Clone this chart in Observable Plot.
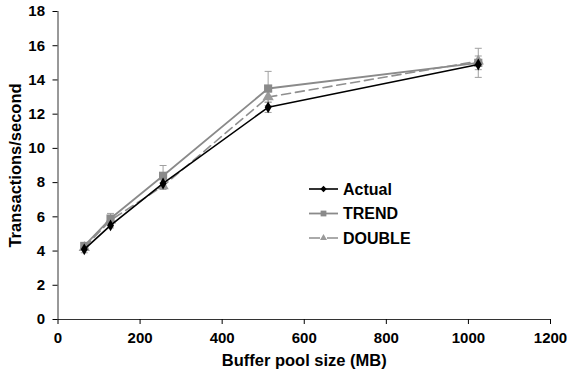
<!DOCTYPE html>
<html>
<head>
<meta charset="utf-8">
<script src="https://cdn.jsdelivr.net/npm/d3@7"></script>
<script src="https://cdn.jsdelivr.net/npm/@observablehq/plot@0.6"></script>
<style>
  body { margin: 0; background: #fff; }
  #wrap { position: relative; width: 567px; height: 378px; }
  #legend { position: absolute; left: 305px; top: 177px; }
</style>
</head>
<body>
<div id="wrap"></div>
<script>
// ---- data ----
const bufferSizes = [64, 128, 256, 512, 1024];
const actual = [4.1, 5.5, 7.95, 12.4, 14.9];
const actualErr = [0.2, 0.15, 0.2, 0.3, 0.3];
const trend = [4.3, 5.9, 8.4, 13.5, 15.0];
const trendErr = [0.15, 0.3, 0.6, 1.0, 0.85];
const double = [4.2, 5.8, 7.8, 13.0, 15.1];
const doubleErr = [0.1, 0.15, 0.2, 0.3, 0.3];
const seriesNames = ["Actual", "TREND", "DOUBLE"];
const xTicks = [0, 200, 400, 600, 800, 1000, 1200];
const yTicks = [0, 2, 4, 6, 8, 10, 12, 14, 16, 18];

const FONT = '"Liberation Sans", Arial, Helvetica, sans-serif';
const styles = {
  Actual: {stroke: "#000000", fill: "#000000", symbol: "diamond", r: 3.6, dash: null, width: 1.6},
  TREND: {stroke: "#8a8a8a", fill: "#8a8a8a", symbol: "square", r: 4.6, dash: null, width: 1.8},
  DOUBLE: {stroke: "#8f8f8f", fill: "#9a9a9a", symbol: "triangle", r: 4.2, dash: "9,5", width: 1.6}
};

const rows = [];
const vals = {Actual: [actual, actualErr], TREND: [trend, trendErr], DOUBLE: [double, doubleErr]};
for (const s of seriesNames) {
  bufferSizes.forEach((x, i) => {
    const [v, e] = vals[s];
    rows.push({series: s, x, y: v[i], lo: v[i] - e[i], hi: v[i] + e[i]});
  });
}

const cap = {draw(context, size) { const w = 3.5; context.moveTo(-w, 0); context.lineTo(w, 0); }};

const marks = [];
// error bars
marks.push(Plot.link(rows, {x1: "x", x2: "x", y1: "lo", y2: "hi", stroke: "#a0a0a0", strokeWidth: 1}));
marks.push(Plot.dot(rows, {x: "x", y: "hi", symbol: cap, stroke: "#a0a0a0", strokeWidth: 1, r: 4}));
marks.push(Plot.dot(rows, {x: "x", y: "lo", symbol: cap, stroke: "#a0a0a0", strokeWidth: 1, r: 4}));
// lines + markers
for (const s of ["DOUBLE", "TREND", "Actual"]) {
  const st = styles[s];
  const d = rows.filter(r => r.series === s);
  marks.push(Plot.line(d, {x: "x", y: "y", stroke: st.stroke, strokeWidth: st.width, strokeDasharray: st.dash}));
  marks.push(Plot.dot(d, {x: "x", y: "y", symbol: st.symbol, fill: st.fill, stroke: "none", r: st.r}));
}
// axes
marks.push(Plot.ruleX([0], {stroke: "#333"}));
marks.push(Plot.ruleY([0], {stroke: "#333"}));
marks.push(Plot.axisX({ticks: xTicks, tickSize: 5, tickPadding: 8, tickFormat: d3.format("d"),
  fontSize: 15, fontWeight: "bold", fontFamily: FONT, fill: "#000", label: null}));
marks.push(Plot.axisY({ticks: yTicks, tickSize: 5, tickPadding: 8,
  fontSize: 15, fontWeight: "bold", fontFamily: FONT, fill: "#000", label: null}));
marks.push(Plot.axisX({ticks: [], tickSize: 0, fontSize: 16.5, fontWeight: "bold", fontFamily: FONT, fill: "#000",
  label: "Buffer pool size (MB)", labelAnchor: "center", labelArrow: "none", labelOffset: 46}));
marks.push(Plot.axisY({ticks: [], tickSize: 0, fontSize: 16.5, fontWeight: "bold", fontFamily: FONT, fill: "#000",
  label: "Transactions/second", labelAnchor: "center", labelArrow: "none", labelOffset: 49}));

const chart = Plot.plot({
  width: 567, height: 378,
  marginLeft: 57.5, marginRight: 17, marginTop: 11, marginBottom: 59,
  x: {domain: [0, 1200]},
  y: {domain: [0, 18]},
  style: {fontFamily: FONT, color: "#000", background: "#fff"},
  marks
});
document.getElementById("wrap").appendChild(chart);

// legend
const leg = d3.select("#wrap").append("svg").attr("id", "legend").attr("width", 130).attr("height", 75);
seriesNames.forEach((s, i) => {
  const st = styles[s];
  const g = leg.append("g").attr("transform", `translate(0,${12 + i * 24.5})`);
  g.append("line").attr("x1", 4).attr("x2", 33).attr("y1", 0).attr("y2", 0)
    .attr("stroke", st.stroke).attr("stroke-width", st.width).attr("stroke-dasharray", st.dash ? "11,7" : null);
  const symType = {diamond: d3.symbolDiamond2, square: d3.symbolSquare2, triangle: d3.symbolTriangle2}[st.symbol];
  g.append("path").attr("d", d3.symbol(symType, (st.r * 0.8) ** 2 * Math.PI)()).attr("transform", "translate(18.5,0)").attr("fill", st.fill);
  g.append("text").attr("x", 38).attr("y", 0).attr("dy", "0.36em").attr("font-size", 16).attr("font-weight", "bold")
    .attr("font-family", FONT).text(s);
});
</script>
</body>
</html>
